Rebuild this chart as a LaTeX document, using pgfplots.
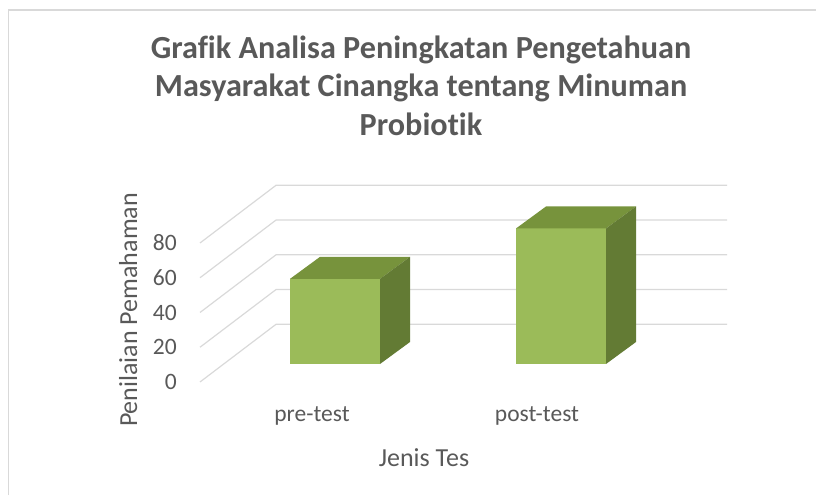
\documentclass[border=0pt]{standalone}
\usepackage{pgfplots}
\pgfplotsset{compat=1.18}
\usepackage{fontspec}
\setmainfont{Carlito}[Ligatures=NoCommon]
\definecolor{txt}{HTML}{595959}
\definecolor{gridc}{HTML}{D9D9D9}
\definecolor{front}{HTML}{9BBB59}
\definecolor{topc}{HTML}{77933C}
\definecolor{side}{HTML}{637B34}
% 3D box: #1 = left x of front face, #2 = value
\newcommand\cube[2]{%
 \pgfmathsetmacro\xa{#1}%
 \pgfmathsetmacro\xb{#1+90}%
 \pgfmathsetmacro\xc{#1+120}%
 \pgfmathsetmacro\xd{#1+30}%
 \pgfmathsetmacro\yb{10.36}%
 \pgfmathsetmacro\yt{10.36+#2}%
 \pgfmathsetmacro\ybb{10.36+12.66}%
 \pgfmathsetmacro\ytb{10.36+12.66+#2}%
 \edef\tmp{%
 \noexpand\addplot[fill=front,draw=none] coordinates {(\xa,\yb) (\xb,\yb) (\xb,\yt) (\xa,\yt)};
 \noexpand\addplot[fill=topc,draw=none] coordinates {(\xa,\yt) (\xb,\yt) (\xc,\ytb) (\xd,\ytb)};
 \noexpand\addplot[fill=side,draw=none] coordinates {(\xb,\yb) (\xc,\ybb) (\xc,\ytb) (\xb,\yt)};
 }\tmp}
\begin{document}
\begin{tikzpicture}
\path[use as bounding box] (0,0) rectangle (816pt,495pt);
\draw[gridc, line width=1.5pt] (8.5pt,0) -- (8.5pt,485pt) -- (816pt,485pt);
\begin{axis}[
 at={(200pt,113pt)}, anchor=south west,
 x=1pt, y=1.7375pt,
 xmin=200, xmax=727, ymin=0, ymax=115,
 clip=false,
 axis line style={draw=none},
 major tick length=0pt,
 ytick={0,20,40,60,80},
 xtick={312,537},
 xticklabels={pre-test,post-test},
 /pgf/number format/assume math mode=true,
 tick label style={font=\fontsize{23.5}{28}\selectfont, text=txt},
 yticklabel style={anchor=east, inner sep=0pt, xshift=-23pt},
 xticklabel style={anchor=base, inner sep=0pt, yshift=-40pt},
]
\addplot[gridc, line width=1.2pt] coordinates {(200,0) (276,33.2) (727,33.2)};
\addplot[gridc, line width=1.2pt] coordinates {(200,20) (276,53.2) (727,53.2)};
\addplot[gridc, line width=1.2pt] coordinates {(200,40) (276,73.2) (727,73.2)};
\addplot[gridc, line width=1.2pt] coordinates {(200,60) (276,93.2) (727,93.2)};
\addplot[gridc, line width=1.2pt] coordinates {(200,80) (276,113.2) (727,113.2)};
\cube{290}{49}
\cube{516}{78}
\end{axis}
\begin{scope}[every node/.style={text=txt, inner sep=0pt}]
\node[anchor=base, font=\fontsize{32.2}{38}\selectfont\bfseries] at (421pt,436pt) {Grafik Analisa Peningkatan Pengetahuan};
\node[anchor=base, font=\fontsize{32.2}{38}\selectfont\bfseries] at (421pt,398pt) {Masyarakat Cinangka tentang Minuman};
\node[anchor=base, font=\fontsize{32.2}{38}\selectfont\bfseries] at (421pt,359pt) {Probiotik};
\node[anchor=base, font=\fontsize{26}{30}\selectfont] at (424pt,28pt) {Jenis Tes};
\node[anchor=base, rotate=90, font=\fontsize{26}{30}\selectfont] at (137pt,185pt) {Penilaian Pemahaman};
\end{scope}
\end{tikzpicture}
\end{document}
